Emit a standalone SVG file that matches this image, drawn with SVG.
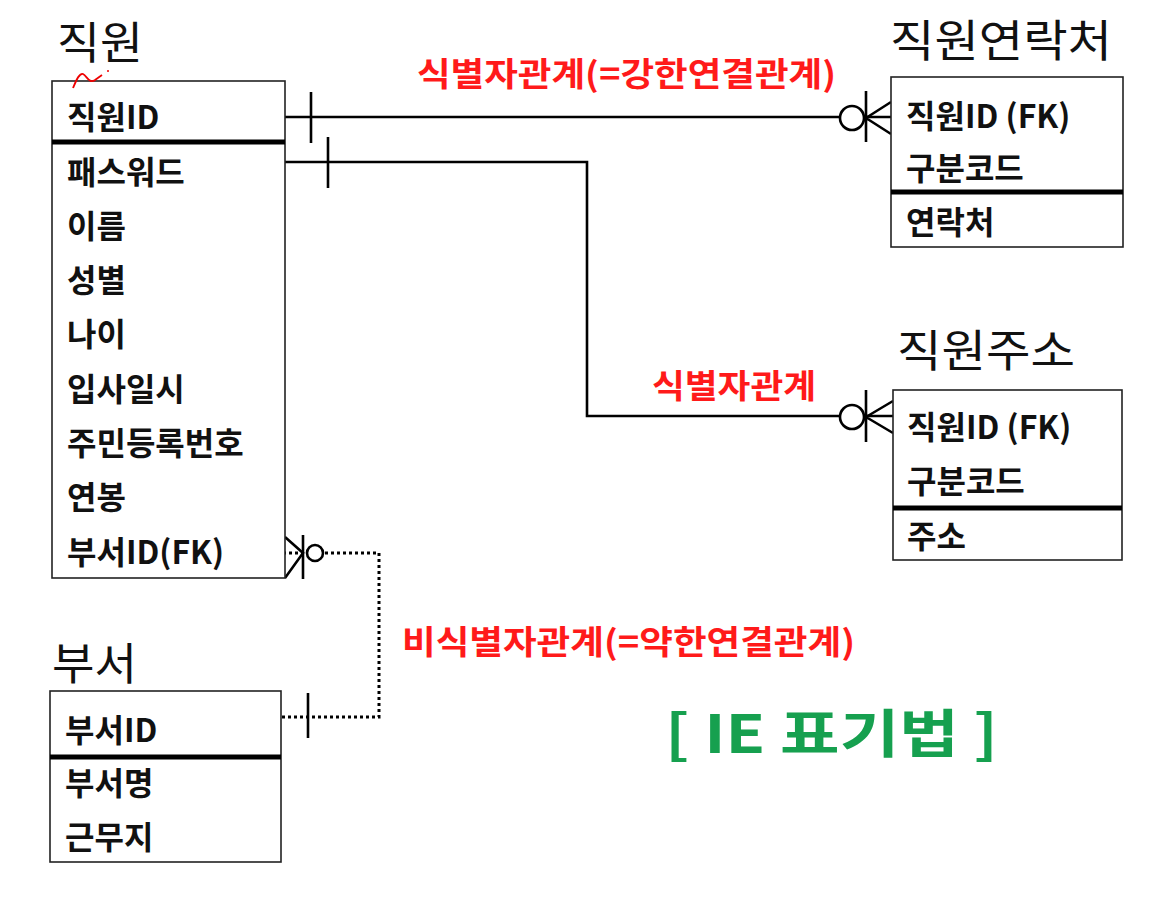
<svg xmlns="http://www.w3.org/2000/svg" width="1151" height="915" viewBox="0 0 1151 915">
<style>
.box{fill:#fff;stroke:#222;stroke-width:1.6}
.div{stroke:#000;stroke-width:5}
.row{font-family:"Noto Sans CJK KR","Open Sans",sans-serif;font-weight:700;font-size:32px;fill:#111}
.title{font-family:"Noto Sans CJK KR","Open Sans",sans-serif;font-weight:400;font-size:44px;fill:#111}
.lbl{font-family:"Noto Sans CJK KR","Open Sans",sans-serif;font-weight:700;font-size:33px;fill:#ff1a1a}
.ie{font-family:"Noto Sans CJK KR","Open Sans",sans-serif;font-weight:700;font-size:52px;fill:#16a04f}
.ln{fill:none;stroke:#000;stroke-width:2.6}
.dot{fill:none;stroke:#000;stroke-width:3;stroke-dasharray:3 3}
</style>
<rect width="1151" height="915" fill="#fff"/>
<g id="conn">
<path class="ln" d="M285,117 H891"/>
<path class="ln" d="M311,92 V143"/>
<circle cx="852" cy="118" r="12" style="fill:#fff;stroke:#000;stroke-width:2.6"/>
<path class="ln" d="M866,91 V142 M866,118 L891,102 M866,118 L891,134"/>
<path class="ln" d="M285,162 H587 V416 H893"/>
<path class="ln" d="M328,137 V188"/>
<circle cx="852" cy="417" r="12" style="fill:#fff;stroke:#000;stroke-width:2.6"/>
<path class="ln" d="M866,390 V442 M866,417 L893,401 M866,417 L893,433"/>
<path class="dot" d="M282,717 H379 V553 H285"/>
<path class="ln" d="M285,537 L303,553 L285,578"/>
<path class="ln" d="M303,535 V579"/>
<circle cx="315" cy="553" r="8" style="fill:#fff;stroke:#000;stroke-width:2.6"/>
<path class="ln" d="M308,693 V738"/>
</g>
<g id="labels">
<text class="lbl" x="417" y="86" textLength="419" lengthAdjust="spacingAndGlyphs">식별자관계(=강한연결관계)</text>
<text class="lbl" x="652" y="398" textLength="164" lengthAdjust="spacingAndGlyphs">식별자관계</text>
<text class="lbl" x="402" y="654" textLength="453" lengthAdjust="spacingAndGlyphs">비식별자관계(=약한연결관계)</text>
<text class="ie" x="665" y="753" textLength="333" lengthAdjust="spacingAndGlyphs">[ IE 표기법 ]</text>
</g>
<g id="node-employee">
<text class="title" x="57" y="59" textLength="86" lengthAdjust="spacingAndGlyphs">직원</text>
<rect class="box" x="52" y="81" width="233" height="497"/>
<path d="M73,88 C76,81 79,73 83,74 C87,76 89,84 95,80 L102,75" fill="none" stroke="#e00" stroke-width="1.8"/>
<circle cx="108" cy="71" r="1" fill="#e00"/>
<line class="div" x1="52" y1="142" x2="285" y2="142"/>
<text class="row" x="67" y="129">직원ID</text>
<text class="row" x="67" y="184">패스워드</text>
<text class="row" x="67" y="238">이름</text>
<text class="row" x="67" y="292">성별</text>
<text class="row" x="67" y="346">나이</text>
<text class="row" x="67" y="401">입사일시</text>
<text class="row" x="67" y="455">주민등록번호</text>
<text class="row" x="67" y="509">연봉</text>
<text class="row" x="67" y="564">부서ID(FK)</text>
</g>
<g id="node-contact">
<text class="title" x="890" y="57" textLength="222" lengthAdjust="spacingAndGlyphs">직원연락처</text>
<rect class="box" x="891" y="77" width="232" height="170"/>
<line class="div" x1="891" y1="192" x2="1123" y2="192"/>
<text class="row" x="906" y="128">직원ID (FK)</text>
<text class="row" x="906" y="180">구분코드</text>
<text class="row" x="906" y="234">연락처</text>
</g>
<g id="node-address">
<text class="title" x="897" y="367" textLength="178" lengthAdjust="spacingAndGlyphs">직원주소</text>
<rect class="box" x="893" y="390" width="229" height="170"/>
<line class="div" x1="893" y1="508" x2="1122" y2="508"/>
<text class="row" x="907" y="439">직원ID (FK)</text>
<text class="row" x="907" y="493">구분코드</text>
<text class="row" x="907" y="548">주소</text>
</g>
<g id="node-dept">
<text class="title" x="52" y="680" textLength="85" lengthAdjust="spacingAndGlyphs">부서</text>
<rect class="box" x="50" y="691" width="231" height="171"/>
<line class="div" x1="50" y1="757" x2="281" y2="757"/>
<text class="row" x="65" y="742">부서ID</text>
<text class="row" x="65" y="795">부서명</text>
<text class="row" x="65" y="849">근무지</text>
</g>
</svg>
